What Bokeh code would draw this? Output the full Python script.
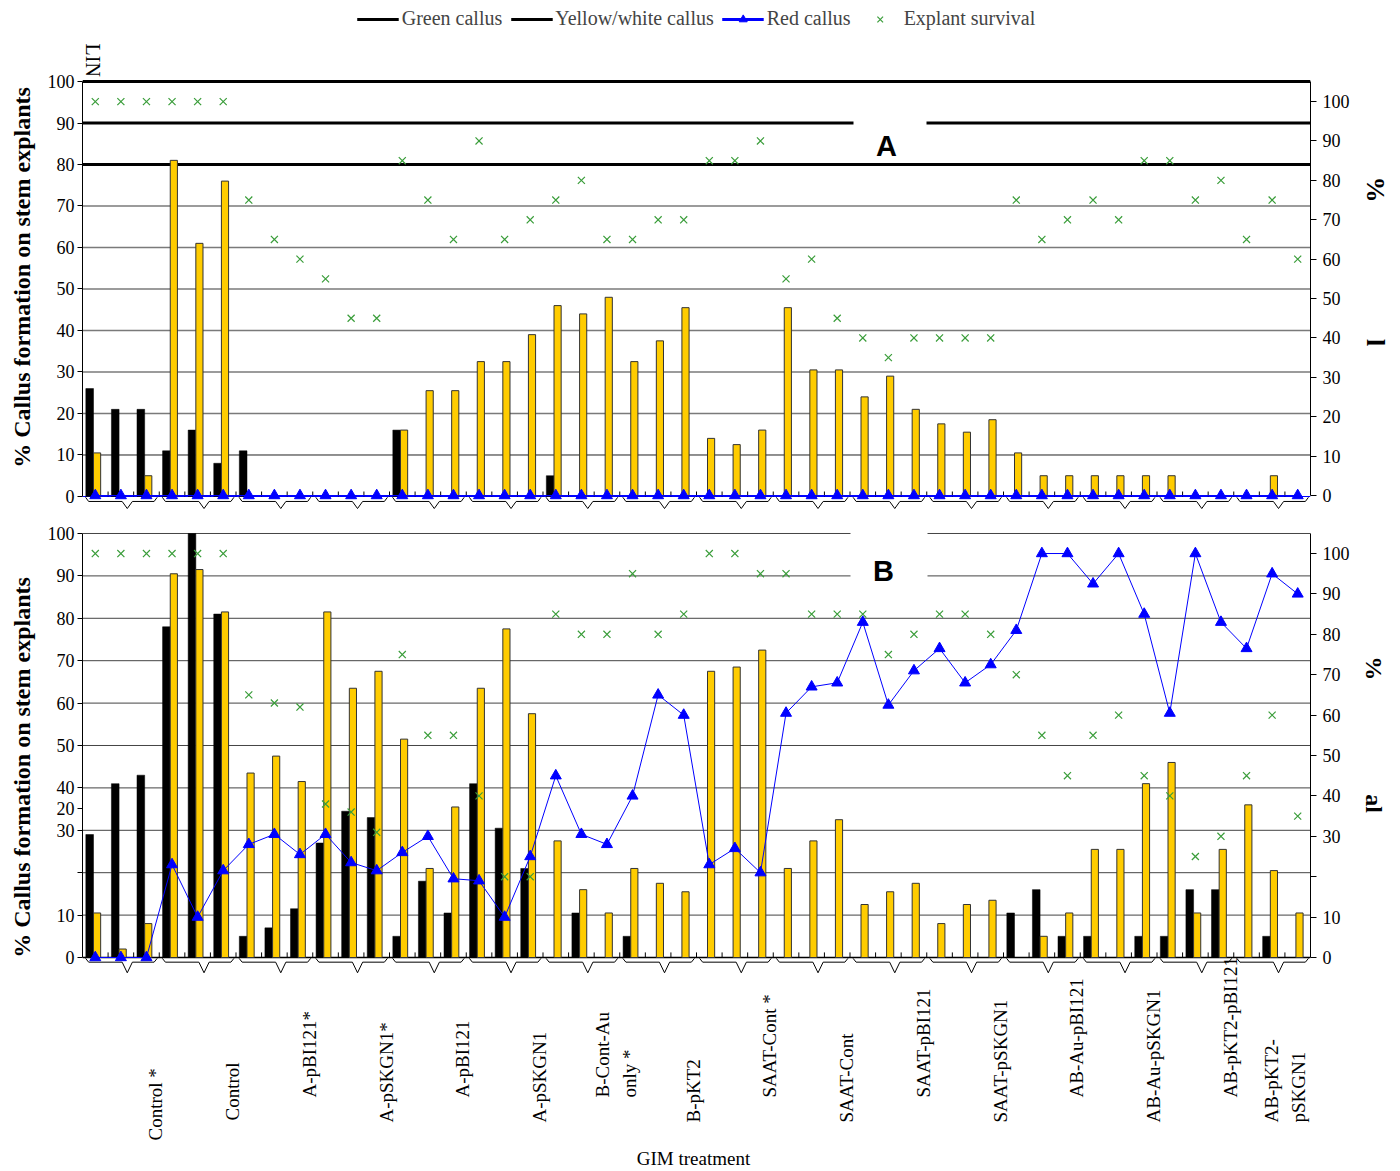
import math
from bokeh.plotting import figure
from bokeh.models import (ColumnDataSource, Range1d, LinearAxis, FixedTicker, Span,
                          BoxAnnotation, Legend, LegendItem, CDSView, BooleanFilter)
from bokeh.layouts import column
from bokeh.transform import dodge
from bokeh.core.properties import value
from bokeh.embed import file_html
from bokeh.resources import INLINE

# ---------------- data ----------------
treatments = ["Control *", "Control", "A-pBI121*", "A-pSKGN1*", "A-pBI121", "A-pSKGN1",
              "B-Cont-Au\nonly *", "B-pKT2", "SAAT-Cont *", "SAAT-Cont", "SAAT-pBI121",
              "SAAT-pSKGN1", "AB-Au-pBI121", "AB-Au-pSKGN1", "AB-pKT2-pBI121", "AB-pKT2-\npSKGN1"]
replicates = 3
positions = list(range(1, len(treatments) * replicates + 1))
tick_values = [0, 10, 20, 30, 40, 50, 60, 70, 80, 90, 100]

# Panel A
green_A = [26, 21, 21, 11, 16, 8, 11, 0, 0, 0, 0, 0, 16, 0, 0, 0, 0, 0, 5, 0, 0, 0, 0, 0,
           0, 0, 0, 0, 0, 0, 0, 0, 0, 0, 0, 0, 0, 0, 0, 0, 0, 0, 0, 0, 0, 0, 0, 0]
yellow_A = [10.5, 0, 5, 81, 61, 76, 0, 0, 0, 0, 0, 0, 16, 25.5, 25.5, 32.5, 32.5, 39,
            46, 44, 48, 32.5, 37.5, 45.5, 14, 12.5, 16, 45.5, 30.5, 30.5, 24, 29, 21,
            17.5, 15.5, 18.5, 10.5, 5, 5, 5, 5, 5, 5, 0, 0, 0, 5, 0]
red_A = [0, 0, 0, 0, 0, 0, 0, 0, 0, 0, 0, 0, 0, 0, 0, 0, 0, 0, 0, 0, 0, 0, 0, 0,
         0, 0, 0, 0, 0, 0, 0, 0, 0, 0, 0, 0, 0, 0, 0, 0, 0, 0, 0, 0, 0, 0, 0, 0]
surv_A = [100, 100, 100, 100, 100, 100, 75, 65, 60, 55, 45, 45, 85, 75, 65, 90, 65, 70,
          75, 80, 65, 65, 70, 70, 85, 85, 90, 55, 60, 45, 40, 35, 40, 40, 40, 40,
          75, 65, 70, 75, 70, 85, 85, 75, 80, 65, 75, 60]

# Panel B
green_B = [29, 41, 43, 78, 100, 81, 5, 7, 11.5, 27, 34.5, 33, 5, 18, 10.5, 41, 30.5, 21,
           0, 10.5, 0, 5, 0, 0, 0, 0, 0, 0, 0, 0, 0, 0, 0, 0, 0, 0,
           10.5, 16, 5, 5, 0, 5, 5, 16, 16, 0, 5, 0]
yellow_B = [10.5, 2, 8, 90.5, 91.5, 81.5, 43.5, 47.5, 41.5, 81.5, 63.5, 67.5, 51.5, 21, 35.5,
            63.5, 77.5, 57.5, 27.5, 16, 10.5, 21, 17.5, 15.5, 67.5, 68.5, 72.5, 21, 27.5, 32.5,
            12.5, 15.5, 17.5, 8, 12.5, 13.5, 0, 5, 10.5, 25.5, 25.5, 41, 46, 10.5, 25.5,
            36, 20.5, 10.5]
red_B = [0, 0, 0, 23, 10, 21.5, 28, 30.5, 25.5, 30.5, 23.5, 21.5, 26, 30, 19.5, 19, 10, 25,
         45, 30.5, 28, 40, 65, 60, 23, 27, 21, 60.5, 67, 68, 83, 62.5, 71, 76.5, 68, 72.5,
         81, 100, 100, 92.5, 100, 85, 60.5, 100, 83, 76.5, 95, 90]
surv_B = [100, 100, 100, 100, 100, 100, 65, 63, 62, 38, 36, 31, 75, 55, 55, 40, 20, 20,
          85, 80, 80, 95, 80, 85, 100, 100, 95, 95, 85, 85, 85, 75, 80, 85, 85, 80,
          70, 55, 45, 55, 60, 45, 40, 25, 30, 45, 60, 35]

# ---------------- layout helpers ----------------
W, H = 1400, 1171
FRAME_L, FRAME_R = 82, 1310      # page px
SERIF = "Liberation Serif"
YELLOW = "#FFCC00"
BLUE = "#0000ff"
GREEN = "#3a9d3a"
NB = "\u00a0"
TITLE = "% Callus formation on stem explants"


def px_to_x(px):
    return 0.5 + (px - FRAME_L) * len(positions) / (FRAME_R - FRAME_L)


def make_ymap(cfg):
    lo, hi = cfg["left"]
    ft, fb = cfg["frame_top"], cfg["frame_bottom"]
    return lambda py: lo + (fb - py) * (hi - lo) / (fb - ft)


def add_text(p, px, y, text, size="18px", angle=0.0, align="center",
             baseline="middle", bold=False, font=SERIF):
    p.text(x=[px_to_x(px)], y=[y], text=[text], angle=angle,
           text_align=align, text_baseline=baseline, text_font=value(font),
           text_font_size=size, text_font_style="bold" if bold else "normal",
           text_color="black")


def panel(green, yellow, red, surv, cfg):
    ymap = make_ymap(cfg)
    p = figure(width=W, height=cfg["fig_bottom"] - cfg["fig_top"],
               x_range=Range1d(0.5, len(positions) + 0.5), y_range=Range1d(*cfg["left"]),
               x_axis_location=None, y_axis_location=None, toolbar_location=None,
               output_backend="svg",
               min_border_left=FRAME_L, min_border_right=W - FRAME_R,
               min_border_top=cfg["frame_top"] - cfg["fig_top"],
               min_border_bottom=cfg["fig_bottom"] - cfg["frame_bottom"],
               outline_line_color=None, background_fill_color="white",
               border_fill_color="white")
    p.extra_y_ranges = {"right": Range1d(*cfg["right"])}
    p.grid.visible = False

    # horizontal grid lines
    for v in tick_values:
        color, w = cfg["grid"](v)
        p.add_layout(Span(location=v, dimension="width", line_color=color,
                          line_width=w, level="underlay"))

    # white box behind panel letter
    bl, br, bt, bb = cfg["box"]
    p.add_layout(BoxAnnotation(left=px_to_x(bl), right=px_to_x(br), top=ymap(bt),
                               bottom=ymap(bb), fill_color="white", fill_alpha=1.0,
                               line_alpha=0, level="underlay"))

    # left axis with the y title
    left = LinearAxis(ticker=FixedTicker(ticks=tick_values + cfg["left_extra"]),
                      bounds=(0, 100),
                      major_tick_out=5, major_tick_in=0, minor_tick_out=0,
                      major_label_standoff=3, major_label_text_font=SERIF,
                      major_label_text_font_size="18px", major_label_text_color="black",
                      axis_line_color="black", major_tick_line_color="black",
                      major_label_overrides=cfg["left_over"],
                      axis_label=NB * cfg["title_pad"] + TITLE,
                      axis_label_text_font=SERIF, axis_label_text_font_size="24px",
                      axis_label_text_font_style="bold", axis_label_text_color="black",
                      axis_label_standoff=10)
    p.add_layout(left, "left")
    # right axis (explant survival / red callus scale)
    right = LinearAxis(y_range_name="right", ticker=FixedTicker(ticks=tick_values),
                       bounds=(0, cfg["right_bound"]), major_tick_out=6, major_tick_in=0,
                       minor_tick_out=0, major_label_standoff=6,
                       major_label_text_font=SERIF, major_label_text_font_size="18px",
                       major_label_text_color="black", axis_line_color="black",
                       major_tick_line_color="black",
                       major_label_overrides=cfg["right_over"])
    p.add_layout(right, "right")
    # fragmentary right-hand title of the original
    rtitle = LinearAxis(y_range_name="right", ticker=FixedTicker(ticks=[]),
                        axis_line_color=None, major_tick_out=0, major_tick_in=0,
                        minor_tick_out=0, major_label_standoff=0,
                        axis_label=cfg["rtitle"], axis_label_standoff=8,
                        axis_label_text_font=SERIF, axis_label_text_font_size=cfg["rsize"],
                        axis_label_text_font_style="bold", axis_label_text_color="black")
    p.add_layout(rtitle, "right")

    src = ColumnDataSource(dict(pos=positions, green=green, yellow=yellow, red=red, surv=surv))
    gview = CDSView(filter=BooleanFilter([v > 0 for v in green]))
    yview = CDSView(filter=BooleanFilter([v > 0 for v in yellow]))

    # boundary ticks and group braces along the baseline
    bx = [k + 0.5 for k in positions[:-1]]
    p.segment(x0=bx, y0=[0] * len(bx), x1=bx, y1=[1.2] * len(bx),
              line_color="black", line_width=1)
    flat, notch = cfg["brace"]
    xs, ys = [], []
    for g in range(len(treatments)):
        a, b, m = g * replicates + 0.62, g * replicates + 3.42, g * replicates + 2.25
        xs.append([a, a + 0.12, m - 0.2, m, m + 0.2, b - 0.12, b])
        ys.append([-0.2, flat, flat, notch, flat, flat, -0.2])
    p.multi_line(xs, ys, line_color="black", line_width=1)

    p.vbar(x=dodge("pos", -0.22, range=p.x_range), top="green", bottom=0, width=0.3,
           source=src, view=gview, fill_color="black", line_color="black", line_width=0.5)
    p.vbar(x=dodge("pos", 0.07, range=p.x_range), top="yellow", bottom=0, width=0.28,
           source=src, view=yview, fill_color=YELLOW, line_color="#333333", line_width=1)
    p.line("pos", "red", source=src, y_range_name="right", line_color=BLUE, line_width=1)
    p.scatter("pos", "red", source=src, y_range_name="right", marker="triangle", size=11,
              fill_color=BLUE, line_color=BLUE)
    p.scatter("pos", "surv", source=src, y_range_name="right", marker="x", size=10,
              line_color=GREEN, line_width=1.2)

    # panel letter
    lx, ly, letter = cfg["letter"]
    add_text(p, lx, ymap(ly), letter, size="29px", bold=True, font="Liberation Sans")
    return p, ymap


def grid_A(v):
    if v >= 80:
        return "black", 3
    if v == 0:
        return BLUE, 1.2
    if v == 10:
        return "#222222", 1
    return "#7a7a7a", 1.5


def grid_B(v):
    if v == 0:
        return "black", 1.5
    return "#444444", 1


# page layout (px): legend 0-42, panel A 42-520, panel B 520-1171 (labels inside B's frame)
cfg_A = dict(fig_top=42, frame_top=42, frame_bottom=512, fig_bottom=520,
             left=(-3.86, 109.4), right=(-4.31, 115.0), right_bound=105.1, grid=grid_A,
             box=(853, 926, 108, 158), letter=(886, 145, "A"),
             brace=(-1.2, -2.9), left_over={}, left_extra=[], right_over={},
             title_pad=0, rtitle="%" + NB * 21 + "l" + NB * 5, rsize="26px")
cfg_B = dict(fig_top=520, frame_top=531, frame_bottom=1171, fig_bottom=1171,
             left=(-50.47, 100.47), right=(-52.97, 105.45), right_bound=105.0, grid=grid_B,
             box=(850, 927, 526, 594), letter=(883, 570, "B"),
             brace=(-1.1, -3.6), left_over={20: "", 35.1: "20"}, left_extra=[35.1],
             right_over={20: ""},
             title_pad=28, rtitle="%" + NB * 19 + "al" + NB * 39, rsize="24px")

pA, yA = panel(green_A, yellow_A, red_A, surv_A, cfg_A)
pB, yB = panel(green_B, yellow_B, red_B, surv_B, cfg_B)

# stray rotated text at the top-left of panel A
add_text(pA, 92, yA(43), "LIN", size="20px", angle=-math.pi / 2, align="left")

# ---------------- treatment labels under panel B ----------------
x_limit = px_to_x(1298)
lab_x, lab_y, lab_t = [], [], []
for g, name in enumerate(treatments):
    lines = name.split("\n")
    cx = g * replicates + 2 + 1.37
    if g == 0:
        bottom_py = 1140
    elif g == 1:
        bottom_py = 1120
    else:
        bottom_py = 1097 if g % 2 == 0 else 1122
    offs = [(i - (len(lines) - 1) / 2) * 1.05 for i in range(len(lines))]
    shift = min(0.0, x_limit - (cx + offs[-1]))
    for line, off in zip(lines, offs):
        lab_x.append(cx + off + shift)
        lab_y.append(yB(bottom_py))
        lab_t.append(line)
pB.text(x=lab_x, y=lab_y, text=lab_t, angle=math.pi / 2, text_align="left",
        text_baseline="middle", text_font=value(SERIF), text_font_size="19px",
        text_color="black")
add_text(pB, 693, yB(1158), "GIM treatment", size="19px")

# ---------------- legend strip ----------------
lg = figure(width=W, height=42, x_range=Range1d(0, 1), y_range=Range1d(0, 1),
            x_axis_location=None, y_axis_location=None, toolbar_location=None,
            output_backend="svg", min_border=0, outline_line_color=None)
lg.grid.visible = False
far = [5, 6]
r_green = lg.line(x=far, y=far, line_color="black", line_width=3)
r_yellow = lg.line(x=far, y=far, line_color="black", line_width=3)
r_red_l = lg.line(x=far, y=far, line_color=BLUE, line_width=3)
r_red_m = lg.scatter(x=far, y=far, marker="triangle", size=11, fill_color=BLUE, line_color=BLUE)
r_surv = lg.scatter(x=far, y=far, marker="x", size=9, line_color=GREEN, line_width=1.2)
legend = Legend(items=[LegendItem(label="Green callus", renderers=[r_green]),
                       LegendItem(label="Yellow/white callus", renderers=[r_yellow]),
                       LegendItem(label="Red callus", renderers=[r_red_l, r_red_m]),
                       LegendItem(label="Explant survival", renderers=[r_surv])],
                location="top_center", orientation="horizontal",
                label_text_font=SERIF, label_text_font_size="20px",
                glyph_width=42, glyph_height=20, label_standoff=3, spacing=8,
                padding=0, margin=7, border_line_alpha=0, background_fill_alpha=0)
lg.add_layout(legend)

layout = column(lg, pA, pB, spacing=0)
open("out.html", "w").write(file_html(layout, INLINE, title="Callus formation"))
